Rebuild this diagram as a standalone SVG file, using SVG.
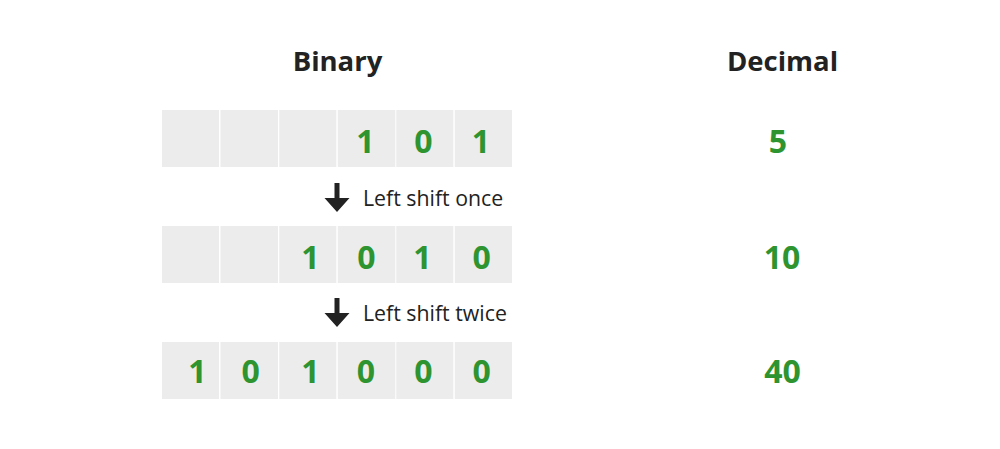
<svg xmlns="http://www.w3.org/2000/svg" width="1000" height="449" viewBox="0 0 1000 449">
<defs>
<style>
.cell{fill:#ececec}
.title{font-family:"Open Sans","Liberation Sans",sans-serif;font-weight:700;font-size:27.5px;fill:#222;text-anchor:middle}
.dig{font-family:"Open Sans","Liberation Sans",sans-serif;font-weight:700;font-size:32px;fill:#2e9430;text-anchor:middle}
.lbl{font-family:"Open Sans","Liberation Sans",sans-serif;font-size:21.3px;fill:#222}
.arr{fill:#222}
</style>
<g id="cells">
<rect class="cell" x="162" y="0" width="57" height="57"/>
<rect class="cell" x="220.5" y="0" width="57.5" height="57"/>
<rect class="cell" x="279.3" y="0" width="57" height="57"/>
<rect class="cell" x="337.8" y="0" width="57.5" height="57"/>
<rect class="cell" x="396.3" y="0" width="57" height="57"/>
<rect class="cell" x="454.8" y="0" width="57.2" height="57"/>
</g>
<path id="arrowShape" d="M-2.5,0 H2.5 V15 H12.5 L0,29 L-12.5,15 H-2.5 Z"/>
</defs>
<rect width="1000" height="449" fill="#fff"/>
<g id="headers">
<text class="title" x="337.5" y="71">Binary</text>
<text class="title" x="782.5" y="71">Decimal</text>
</g>
<g id="row1">
<use href="#cells" y="110"/>
<text class="dig" x="365.5" y="153">1</text>
<text class="dig" x="423.5" y="153">0</text>
<text class="dig" x="481" y="153">1</text>
<text class="dig" x="778" y="153">5</text>
</g>
<g id="row2">
<use href="#cells" y="226"/>
<text class="dig" x="310.5" y="268.5">1</text>
<text class="dig" x="366.3" y="268.5">0</text>
<text class="dig" x="422.5" y="268.5">1</text>
<text class="dig" x="481.7" y="268.5">0</text>
<text class="dig" x="782" y="268.5">10</text>
</g>
<g id="row3">
<use href="#cells" y="342"/>
<text class="dig" x="197.5" y="382.5">1</text>
<text class="dig" x="250.7" y="382.5">0</text>
<text class="dig" x="310.5" y="382.5">1</text>
<text class="dig" x="366" y="382.5">0</text>
<text class="dig" x="423.3" y="382.5">0</text>
<text class="dig" x="481.7" y="382.5">0</text>
<text class="dig" x="782.5" y="382.5">40</text>
</g>
<g id="connectors">
<g id="shift1">
<use class="arr" href="#arrowShape" x="337" y="183"/>
<text class="lbl" x="363" y="205.5">Left shift once</text>
</g>
<g id="shift2">
<use class="arr" href="#arrowShape" x="337" y="298"/>
<text class="lbl" x="363" y="320.5">Left shift twice</text>
</g>
</g>
</svg>
